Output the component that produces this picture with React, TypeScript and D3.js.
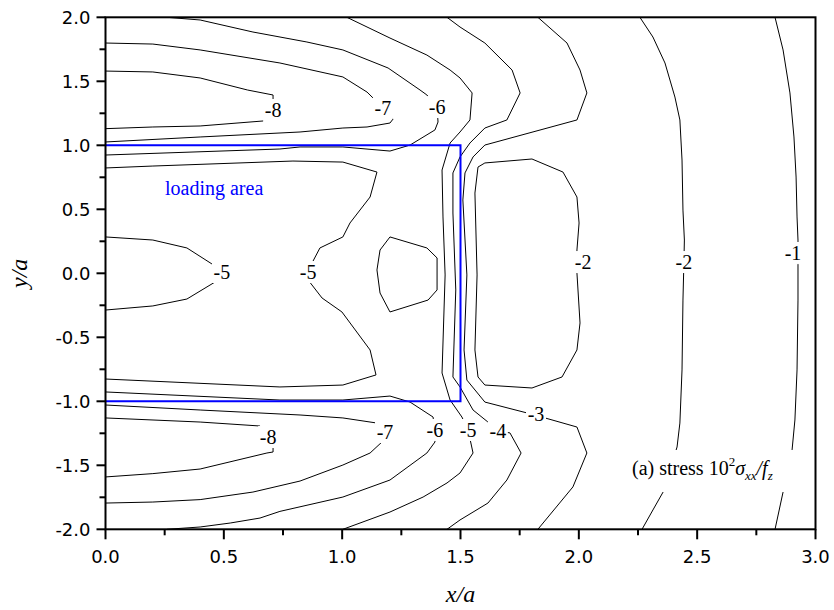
import React from "react";
import * as d3 from "d3";

type P = [number, number];

// Contour polylines (x/a, y/a)
const cM8Top: P[] = [[0,1.580],[0.20,1.573],[0.40,1.526],[0.60,1.432],[0.708,1.393],[0.708,1.354],[0.708,1.276],[0.666,1.190],[0.40,1.151],[0.20,1.143],[0,1.130]];
const cM7Top: P[] = [[0,1.799],[0.20,1.791],[0.40,1.745],[0.737,1.643],[1.003,1.534],[1.105,1.416],[1.139,1.354],[1.172,1.291],[1.215,1.205],[1.202,1.174],[1.105,1.143],[1.003,1.135],[0.822,1.104],[0.40,1.065],[0,1.026]];
const cM6Top: P[] = [[0.26,2.0],[0.40,1.979],[0.623,1.885],[0.851,1.807],[1.003,1.745],[1.194,1.604],[1.329,1.432],[1.358,1.393],[1.401,1.299],[1.405,1.182],[1.392,1.120],[1.287,1.002],[1.202,0.955],[1.003,0.987],[0.822,0.987],[0.737,0.971],[0,0.924]];
const cM5Small: P[] = [[0,0.284],[0.20,0.260],[0.344,0.198],[0.454,0.068],[0.492,0.010],[0.463,-0.068],[0.344,-0.201],[0.20,-0.255],[0,-0.287]];
const cM5Big: P[] = [[0,0.823],[0.20,0.838],[0.792,0.877],[1.003,0.869],[1.147,0.791],[1.118,0.596],[1.033,0.393],[1.003,0.284],[0.906,0.198],[0.864,0.05],[0.856,0.010],[0.856,-0.052],[0.915,-0.193],[0.999,-0.302],[1.118,-0.599],[1.143,-0.794],[1.003,-0.873],[0.737,-0.888],[0,-0.826]];
const cInnerLoop: P[] = [[1.202,0.284],[1.358,0.198],[1.401,0.120],[1.401,-0.130],[1.363,-0.209],[1.202,-0.302],[1.160,-0.154],[1.147,0.026],[1.160,0.182],[1.202,0.284]];
const cM5Right: P[] = [[1.020,2.0],[1.202,1.838],[1.358,1.705],[1.456,1.588],[1.498,1.526],[1.549,1.409],[1.540,1.198],[1.498,1.104],[1.456,1.018],[1.422,0.807],[1.426,0.440],[1.435,-0.013],[1.422,-0.779],[1.456,-0.990],[1.506,-1.123],[1.532,-1.224],[1.553,-1.404],[1.498,-1.560],[1.443,-1.638],[1.342,-1.748],[1.202,-1.865],[1.003,-2.0]];
const cM4: P[] = [[1.443,2.0],[1.498,1.924],[1.603,1.799],[1.718,1.588],[1.752,1.409],[1.696,1.198],[1.603,1.135],[1.540,1.018],[1.498,0.909],[1.468,0.784],[1.468,0.471],[1.480,-0.130],[1.468,-0.810],[1.498,-0.888],[1.553,-1.068],[1.616,-1.162],[1.658,-1.232],[1.709,-1.247],[1.756,-1.404],[1.696,-1.615],[1.616,-1.795],[1.498,-1.927],[1.443,-2.0]];
const cM3: P[] = [[1.827,2.0],[1.950,1.799],[2.005,1.588],[2.034,1.409],[1.992,1.198],[1.603,1.002],[1.553,0.909],[1.519,0.784],[1.510,0.573],[1.527,-0.013],[1.515,-0.599],[1.527,-0.834],[1.603,-1.006],[1.781,-1.091],[1.819,-1.099],[1.857,-1.130],[1.992,-1.201],[2.034,-1.404],[1.975,-1.669],[1.827,-2.0]];
const cM2Inner: P[] = [[1.992,0.088],[1.992,0.182],[2.001,0.393],[1.992,0.596],[1.933,0.791],[1.802,0.893],[1.603,0.862],[1.574,0.830],[1.561,0.627],[1.570,-0.013],[1.561,-0.599],[1.574,-0.810],[1.603,-0.873],[1.802,-0.896],[1.929,-0.810],[1.992,-0.599],[2.005,-0.388],[1.992,0.002],[1.992,0.088]];
const cM2Outer: P[] = [[2.258,2.0],[2.313,1.846],[2.364,1.643],[2.406,1.377],[2.427,1.198],[2.436,0.885],[2.440,0.494],[2.446,0.260],[2.444,0.088],[2.440,-0.209],[2.436,-0.755],[2.427,-1.170],[2.415,-1.357],[2.356,-1.709],[2.313,-1.849],[2.267,-2.0]];
const cM1: P[] = [[2.829,2.0],[2.863,1.745],[2.892,1.409],[2.909,1.065],[2.918,0.752],[2.922,0.440],[2.926,0.260],[2.926,0.068],[2.926,-0.209],[2.922,-0.755],[2.913,-1.146],[2.901,-1.380],[2.863,-1.709],[2.829,-2.0]];
const cM8Bot: P[] = [[0,-1.130],[0.40,-1.162],[0.653,-1.193],[0.687,-1.279],[0.708,-1.365],[0.708,-1.396],[0.682,-1.404],[0.40,-1.529],[0.20,-1.565],[0,-1.591]];
const cM7Bot: P[] = [[0,-1.029],[0.40,-1.068],[0.822,-1.107],[1.003,-1.130],[1.147,-1.170],[1.181,-1.240],[1.168,-1.318],[1.118,-1.404],[1.003,-1.498],[0.822,-1.623],[0.623,-1.709],[0.40,-1.768],[0.20,-1.787],[0,-1.795]];
const cM6Bot: P[] = [[0,-0.927],[0.737,-0.990],[1.003,-0.990],[1.202,-0.959],[1.287,-1.006],[1.384,-1.123],[1.392,-1.224],[1.392,-1.318],[1.358,-1.404],[1.202,-1.615],[1.003,-1.748],[0.737,-1.860],[0.653,-1.912],[0.527,-1.951],[0.40,-1.982],[0.26,-2.0]];

const contourLevels = [-8, -7, -6, -5, -5, -4, -5, -4, -3, -2, -2, -1, -8, -7, -6];
const contourLines = [cM8Top, cM7Top, cM6Top, cM5Small, cM5Big, cInnerLoop, cM5Right, cM4, cM3, cM2Inner, cM2Outer, cM1, cM8Bot, cM7Bot, cM6Bot];

// Contour labels
const labelTexts = ["-8", "-7", "-6", "-5", "-5", "-2", "-2", "-1", "-8", "-7", "-6", "-5", "-4", "-3"];
const labelX = [0.708, 1.172, 1.401, 0.492, 0.856, 2.018, 2.444, 2.905, 0.687, 1.181, 1.392, 1.532, 1.658, 1.819];
const labelY = [1.276, 1.291, 1.299, 0.010, 0.010, 0.088, 0.088, 0.159, -1.279, -1.240, -1.224, -1.224, -1.232, -1.099];

const xTicks = [0, 0.5, 1.0, 1.5, 2.0, 2.5, 3.0];
const yTicks = [-2, -1.5, -1, -0.5, 0, 0.5, 1, 1.5, 2];
const xMinor = [0.25, 0.75, 1.25, 1.75, 2.25, 2.75];
const yMinor = [-1.75, -1.25, -0.75, -0.25, 0.25, 0.75, 1.25, 1.75];

// Loading area outline (x from 0 to 1.5, y from -1 to 1)
const loadOutline: P[] = [[0, 1], [1.5, 1], [1.5, -1], [0, -1]];

export default function App() {
  const W = 834, H = 610;
  const L = 105.5, R = 815.5, T = 17.3, B = 529.3;
  const x = d3.scaleLinear().domain([0, 3]).range([L, R]);
  const y = d3.scaleLinear().domain([-2, 2]).range([B, T]);
  const line = d3.line<P>().x(d => x(d[0])).y(d => y(d[1])).curve(d3.curveLinear);
  const serif = "'Liberation Serif', 'Times New Roman', serif";
  const sans = "'DejaVu Sans', Arial, sans-serif";

  return (
    <svg width={W} height={H} style={{ position: "absolute", left: 0, top: 0, background: "#fff" }}>
      <defs>
        <clipPath id="plotclip">
          <rect x={L} y={T} width={R - L} height={B - T} />
        </clipPath>
      </defs>
      <rect x={0} y={0} width={W} height={H} fill="#fff" />
      <g clipPath="url(#plotclip)">
        {contourLines.map((pts, i) => (
          <path key={i} d={line(pts) || ""} fill="none" stroke="#000" strokeWidth={1} data-level={contourLevels[i]} />
        ))}
        {labelTexts.map((t, i) => (
          <g key={"l" + i}>
            <rect x={x(labelX[i]) - 10} y={y(labelY[i]) - 11} width={20} height={22} fill="#fff" />
            <text x={x(labelX[i])} y={y(labelY[i])} dy="0.35em" textAnchor="middle" fontFamily={serif} fontSize={20} fill="#000">{t}</text>
          </g>
        ))}
        <path d={line(loadOutline) || ""} fill="none" stroke="#0000ff" strokeWidth={2} />
        <text x={165} y={195} fontFamily={serif} fontSize={20} fill="#0000ff">loading area</text>
        <rect x={628} y={450} width={168} height={42} fill="#fff" />
        <text x={632} y={475} fontFamily={serif} fontSize={20} fill="#000">
          (a) stress 10
          <tspan fontSize={13} dy={-9}>2</tspan>
          <tspan fontStyle="italic" dy={9}>σ</tspan>
          <tspan fontStyle="italic" fontSize={13} dy={5}>xx</tspan>
          <tspan fontStyle="italic" dy={-5}>/f</tspan>
          <tspan fontStyle="italic" fontSize={13} dy={5}>z</tspan>
        </text>
      </g>
      <rect x={L} y={T} width={R - L} height={B - T} fill="none" stroke="#000" strokeWidth={2} />
      {yTicks.map(v => (
        <g key={"yt" + v}>
          <line x1={L - 9} x2={L} y1={y(v)} y2={y(v)} stroke="#000" strokeWidth={2} />
          <text x={L - 15} y={y(v)} dy="0.36em" textAnchor="end" fontFamily={sans} fontSize={18} fill="#000">{v.toFixed(1)}</text>
        </g>
      ))}
      {yMinor.map(v => (
        <line key={"ym" + v} x1={L - 6} x2={L} y1={y(v)} y2={y(v)} stroke="#000" strokeWidth={2} />
      ))}
      {xTicks.map(v => (
        <g key={"xt" + v}>
          <line x1={x(v)} x2={x(v)} y1={B} y2={B + 10} stroke="#000" strokeWidth={2} />
          <text x={x(v)} y={563} textAnchor="middle" fontFamily={sans} fontSize={18} fill="#000">{v.toFixed(1)}</text>
        </g>
      ))}
      {xMinor.map(v => (
        <line key={"xm" + v} x1={x(v)} x2={x(v)} y1={B} y2={B + 6} stroke="#000" strokeWidth={2} />
      ))}
      <text x={(L + R) / 2} y={602} textAnchor="middle" fontFamily={serif} fontStyle="italic" fontSize={24} fill="#000">x/a</text>
      <text transform={`translate(27,${(T + B) / 2}) rotate(-90)`} textAnchor="middle" fontFamily={serif} fontStyle="italic" fontSize={24} fill="#000">y/a</text>
    </svg>
  );
}
